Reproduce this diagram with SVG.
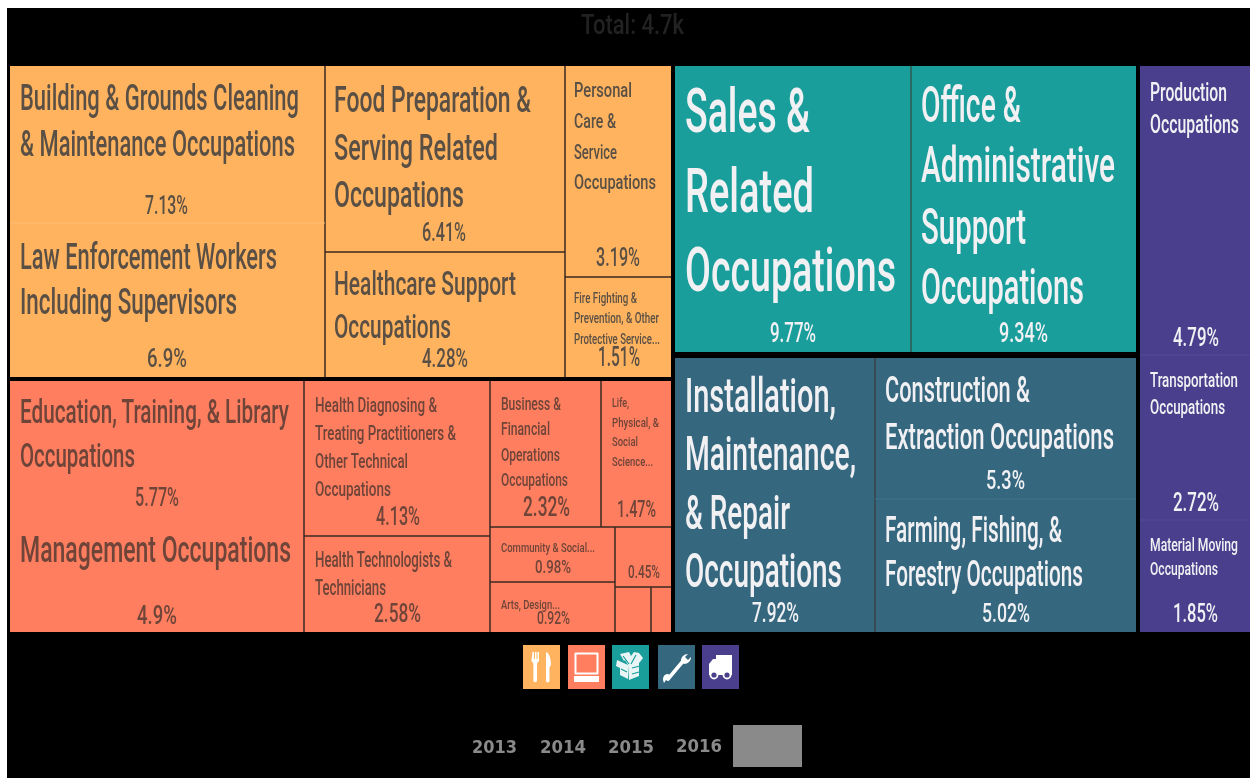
<svg xmlns="http://www.w3.org/2000/svg" width="1250" height="778" viewBox="0 0 1250 778">
<defs><filter id="soft" x="-5%" y="-10%" width="110%" height="120%"><feGaussianBlur stdDeviation="0.4"/></filter></defs>
<style>
text{font-family:"Roboto","Liberation Sans",sans-serif;font-weight:500;filter:url(#soft)}
.d{fill:#5a5044}.r{fill:#6e4438}.w{fill:#f1f1f4}
.o{fill:#ffb35f}.c{fill:#ff7e60}.t{fill:#1a9e9c}.b{fill:#35677f}.p{fill:#4a3f8c}
.ln{stroke:#3a2a20;stroke-width:1.5;fill:none}
.fa{stroke-width:1;fill:none}
.ic{fill:none;stroke:#fff;stroke-linecap:round;stroke-linejoin:round}
.icf{fill:#fff}
.soft{filter:url(#soft)}
.yr{font-family:"DejaVu Sans",sans-serif;font-weight:bold;font-size:18px;fill:#8a8a8a}
</style>
<rect x="0" y="0" width="1250" height="778" fill="#fff"/>
<rect x="7" y="8" width="1243" height="770" fill="#000"/>
<text x="581" y="34" font-size="28" fill="#222" textLength="103" lengthAdjust="spacingAndGlyphs">Total: 4.7k</text>

<g id="tiles-bg">
<rect class="o" x="10" y="66" width="661" height="311"/>
<rect class="c" x="10" y="381" width="661" height="251"/>
<rect class="t" x="675" y="66" width="461" height="286"/>
<rect class="b" x="675" y="358" width="461" height="274"/>
<rect class="p" x="1140" y="66" width="110" height="566"/>
</g>

<g id="connectors">
<path class="ln" d="M325 66V377M565 66V377M325 252H565M565 277H671"/>
<path class="fa" stroke="#ffbd75" d="M10 223H325"/>
<path class="ln" d="M304 381V632M490 381V632M304 536H490M601 381V527M490 527H671M615 527V632M490 582H615M615 587H671M651 587V632"/>
<path class="ln" stroke-opacity=".6" d="M911 66V352"/>
<path class="ln" stroke-opacity=".6" d="M875 358V632"/>
<path class="fa" stroke="#3f7488" d="M875 499H1136"/>
<path class="fa" stroke="#544a96" d="M1140 355H1250M1140 520H1250"/>
</g>

<g id="node-building" class="d">
<text x="20" y="110" font-size="36" textLength="279" lengthAdjust="spacingAndGlyphs">Building &amp; Grounds Cleaning</text>
<text x="20" y="156" font-size="36" textLength="275" lengthAdjust="spacingAndGlyphs">&amp; Maintenance Occupations</text>
<text x="145" y="214" font-size="26" textLength="43" lengthAdjust="spacingAndGlyphs">7.13%</text>
</g>
<g id="node-law" class="d">
<text x="20" y="269" font-size="36" textLength="257" lengthAdjust="spacingAndGlyphs">Law Enforcement Workers</text>
<text x="20" y="314" font-size="36" textLength="217" lengthAdjust="spacingAndGlyphs">Including Supervisors</text>
<text x="147" y="367" font-size="26" textLength="40" lengthAdjust="spacingAndGlyphs">6.9%</text>
</g>
<g id="node-food" class="d">
<text x="334" y="112" font-size="36" textLength="197" lengthAdjust="spacingAndGlyphs">Food Preparation &amp;</text>
<text x="334" y="160" font-size="36" textLength="164" lengthAdjust="spacingAndGlyphs">Serving Related</text>
<text x="334" y="207" font-size="36" textLength="130" lengthAdjust="spacingAndGlyphs">Occupations</text>
<text x="422" y="241" font-size="26" textLength="44" lengthAdjust="spacingAndGlyphs">6.41%</text>
</g>
<g id="node-healthcare" class="d">
<text x="334" y="295" font-size="34" textLength="182" lengthAdjust="spacingAndGlyphs">Healthcare Support</text>
<text x="334" y="338" font-size="34" textLength="117" lengthAdjust="spacingAndGlyphs">Occupations</text>
<text x="422" y="367" font-size="26" textLength="46" lengthAdjust="spacingAndGlyphs">4.28%</text>
</g>
<g id="node-personal" class="d">
<text x="574" y="97" font-size="21" textLength="58" lengthAdjust="spacingAndGlyphs">Personal</text>
<text x="574" y="128" font-size="21" textLength="42" lengthAdjust="spacingAndGlyphs">Care &amp;</text>
<text x="574" y="159" font-size="21" textLength="43" lengthAdjust="spacingAndGlyphs">Service</text>
<text x="574" y="189" font-size="21" textLength="82" lengthAdjust="spacingAndGlyphs">Occupations</text>
<text x="596" y="266" font-size="26" textLength="44" lengthAdjust="spacingAndGlyphs">3.19%</text>
</g>
<g id="node-fire" class="d">
<text x="574" y="303" font-size="14" textLength="63" lengthAdjust="spacingAndGlyphs">Fire Fighting &amp;</text>
<text x="574" y="323" font-size="14" textLength="85" lengthAdjust="spacingAndGlyphs">Prevention, &amp; Other</text>
<text x="574" y="344" font-size="14" textLength="86" lengthAdjust="spacingAndGlyphs">Protective Service...</text>
<text x="598" y="366" font-size="28" textLength="42" lengthAdjust="spacingAndGlyphs">1.51%</text>
</g>

<g id="node-education" class="r">
<text x="20" y="423" font-size="33" textLength="269" lengthAdjust="spacingAndGlyphs">Education, Training, &amp; Library</text>
<text x="20" y="467" font-size="33" textLength="115" lengthAdjust="spacingAndGlyphs">Occupations</text>
<text x="135" y="506" font-size="26" textLength="44" lengthAdjust="spacingAndGlyphs">5.77%</text>
</g>
<g id="node-management" class="r">
<text x="20" y="562" font-size="36" textLength="271" lengthAdjust="spacingAndGlyphs">Management Occupations</text>
<text x="137" y="624" font-size="26" textLength="40" lengthAdjust="spacingAndGlyphs">4.9%</text>
</g>
<g id="node-diagnosing" class="r">
<text x="315" y="412" font-size="20" textLength="122" lengthAdjust="spacingAndGlyphs">Health Diagnosing &amp;</text>
<text x="315" y="440" font-size="20" textLength="141" lengthAdjust="spacingAndGlyphs">Treating Practitioners &amp;</text>
<text x="315" y="468" font-size="20" textLength="93" lengthAdjust="spacingAndGlyphs">Other Technical</text>
<text x="315" y="496" font-size="20" textLength="76" lengthAdjust="spacingAndGlyphs">Occupations</text>
<text x="376" y="525" font-size="26" textLength="44" lengthAdjust="spacingAndGlyphs">4.13%</text>
</g>
<g id="node-technologists" class="r">
<text x="315" y="567" font-size="22" textLength="137" lengthAdjust="spacingAndGlyphs">Health Technologists &amp;</text>
<text x="315" y="595" font-size="22" textLength="71" lengthAdjust="spacingAndGlyphs">Technicians</text>
<text x="374" y="622" font-size="26" textLength="47" lengthAdjust="spacingAndGlyphs">2.58%</text>
</g>
<g id="node-business" class="r">
<text x="501" y="410" font-size="18" textLength="60" lengthAdjust="spacingAndGlyphs">Business &amp;</text>
<text x="501" y="435" font-size="18" textLength="49" lengthAdjust="spacingAndGlyphs">Financial</text>
<text x="501" y="461" font-size="18" textLength="59" lengthAdjust="spacingAndGlyphs">Operations</text>
<text x="501" y="486" font-size="18" textLength="67" lengthAdjust="spacingAndGlyphs">Occupations</text>
<text x="523" y="516" font-size="27" textLength="47" lengthAdjust="spacingAndGlyphs">2.32%</text>
</g>
<g id="node-life" class="r">
<text x="612" y="407" font-size="13" textLength="17" lengthAdjust="spacingAndGlyphs">Life,</text>
<text x="612" y="427" font-size="13" textLength="47" lengthAdjust="spacingAndGlyphs">Physical, &amp;</text>
<text x="612" y="446" font-size="13" textLength="26" lengthAdjust="spacingAndGlyphs">Social</text>
<text x="612" y="466" font-size="13" textLength="41" lengthAdjust="spacingAndGlyphs">Science...</text>
<text x="617" y="517" font-size="24" textLength="39" lengthAdjust="spacingAndGlyphs">1.47%</text>
</g>
<g id="node-community" class="r">
<text x="501" y="552" font-size="13" textLength="94" lengthAdjust="spacingAndGlyphs">Community &amp; Social...</text>
<text x="535" y="573" font-size="18" textLength="36" lengthAdjust="spacingAndGlyphs">0.98%</text>
</g>
<g id="node-arts" class="r">
<text x="501" y="609" font-size="13" textLength="59" lengthAdjust="spacingAndGlyphs">Arts, Design...</text>
<text x="537" y="624" font-size="18" textLength="33" lengthAdjust="spacingAndGlyphs">0.92%</text>
</g>
<g id="node-small" class="r">
<text x="628" y="578" font-size="18" textLength="32" lengthAdjust="spacingAndGlyphs">0.45%</text>
</g>

<g id="node-sales" class="w">
<text x="685" y="132" font-size="62" textLength="125" lengthAdjust="spacingAndGlyphs">Sales &amp;</text>
<text x="685" y="212" font-size="62" textLength="129" lengthAdjust="spacingAndGlyphs">Related</text>
<text x="685" y="291" font-size="62" textLength="211" lengthAdjust="spacingAndGlyphs">Occupations</text>
<text x="770" y="342" font-size="27" textLength="46" lengthAdjust="spacingAndGlyphs">9.77%</text>
</g>
<g id="node-office" class="w">
<text x="921" y="122" font-size="50" textLength="100" lengthAdjust="spacingAndGlyphs">Office &amp;</text>
<text x="921" y="182" font-size="50" textLength="194" lengthAdjust="spacingAndGlyphs">Administrative</text>
<text x="921" y="244" font-size="50" textLength="105" lengthAdjust="spacingAndGlyphs">Support</text>
<text x="921" y="304" font-size="50" textLength="163" lengthAdjust="spacingAndGlyphs">Occupations</text>
<text x="999" y="342" font-size="27" textLength="49" lengthAdjust="spacingAndGlyphs">9.34%</text>
</g>
<g id="node-installation" class="w">
<text x="685" y="412" font-size="48" textLength="151" lengthAdjust="spacingAndGlyphs">Installation,</text>
<text x="685" y="470" font-size="48" textLength="171" lengthAdjust="spacingAndGlyphs">Maintenance,</text>
<text x="685" y="529" font-size="48" textLength="105" lengthAdjust="spacingAndGlyphs">&amp; Repair</text>
<text x="685" y="587" font-size="48" textLength="157" lengthAdjust="spacingAndGlyphs">Occupations</text>
<text x="752" y="622" font-size="27" textLength="47" lengthAdjust="spacingAndGlyphs">7.92%</text>
</g>
<g id="node-construction" class="w">
<text x="885" y="402" font-size="36" textLength="145" lengthAdjust="spacingAndGlyphs">Construction &amp;</text>
<text x="885" y="449" font-size="36" textLength="229" lengthAdjust="spacingAndGlyphs">Extraction Occupations</text>
<text x="986" y="489" font-size="26" textLength="39" lengthAdjust="spacingAndGlyphs">5.3%</text>
</g>
<g id="node-farming" class="w">
<text x="885" y="542" font-size="36" textLength="177" lengthAdjust="spacingAndGlyphs">Farming, Fishing, &amp;</text>
<text x="885" y="586" font-size="36" textLength="198" lengthAdjust="spacingAndGlyphs">Forestry Occupations</text>
<text x="982" y="622" font-size="26" textLength="48" lengthAdjust="spacingAndGlyphs">5.02%</text>
</g>
<g id="node-production" class="w">
<text x="1150" y="101" font-size="25" textLength="77" lengthAdjust="spacingAndGlyphs">Production</text>
<text x="1150" y="133" font-size="25" textLength="89" lengthAdjust="spacingAndGlyphs">Occupations</text>
<text x="1173" y="346" font-size="26" textLength="46" lengthAdjust="spacingAndGlyphs">4.79%</text>
</g>
<g id="node-transportation" class="w">
<text x="1150" y="387" font-size="21" textLength="88" lengthAdjust="spacingAndGlyphs">Transportation</text>
<text x="1150" y="414" font-size="21" textLength="75" lengthAdjust="spacingAndGlyphs">Occupations</text>
<text x="1173" y="511" font-size="26" textLength="46" lengthAdjust="spacingAndGlyphs">2.72%</text>
</g>
<g id="node-material" class="w">
<text x="1150" y="551" font-size="18" textLength="88" lengthAdjust="spacingAndGlyphs">Material Moving</text>
<text x="1150" y="575" font-size="18" textLength="68" lengthAdjust="spacingAndGlyphs">Occupations</text>
<text x="1173" y="622" font-size="26" textLength="45" lengthAdjust="spacingAndGlyphs">1.85%</text>
</g>

<g id="icon-food">
<rect class="o" x="523" y="645" width="37" height="44"/>
<g class="soft">
<path class="icf" d="M533 652h1.500v7h1v-7h1.500v7h1v-7h1.500v9l-2 2.500v17a1.800 1.800 0 0 1-3.600 0v-17l-2-2.500z" transform="translate(-0.500 0)"/>
<path class="icf" d="M546 652c3 1 5 6 5 13l-1.500 2v14a1.800 1.800 0 0 1-3.500 0z"/>
</g>
</g>
<g id="icon-computer">
<rect class="c" x="568" y="645" width="37" height="44"/>
<g class="soft">
<rect class="ic" stroke-width="2" x="575.500" y="653.500" width="22" height="20"/>
<rect class="icf" x="574" y="676" width="25" height="6"/>
</g>
</g>
<g id="icon-box">
<rect class="t" x="612" y="645" width="37" height="44"/>
<g class="soft">
<path class="icf" d="M620 654l9-2 2 4 3-4 5 1 4 5-3 4-1 1v13l-10 4-1-15-3-5-1 1z" fill-opacity=".9"/>
<path class="icf" d="M617 660l11 5v14l-8-4v-7l-4-2z" fill-opacity=".9"/>
<path d="M623 656l6 8M636 655l-5 9M632 668l8-2M632 674l7-2M621 669l6 3" stroke="#1a9e9c" stroke-width="1.200" fill="none"/>
</g>
</g>
<g id="icon-wrench">
<rect class="b" x="658" y="645" width="37" height="44"/>
<g class="soft">
<path class="ic" stroke-width="3.500" d="M668 679l16-19"/>
<path class="icf" d="M688 654c-4 0-7 3-7 7l3 3c4 0 7-3 7-7l-3 3-3-3zM668 674c-3 0-5 2-5 6l1 3 2-3 2 1 2-2 1-3z"/>
</g>
</g>
<g id="icon-truck">
<rect class="p" x="702" y="645" width="37" height="44"/>
<g class="soft">
<path class="icf" d="M716 655h16v20h-23v-11l4-5h3z"/>
<circle cx="714" cy="675" r="3.500" fill="#4a3f8c" stroke="#fff" stroke-width="1.800"/>
<circle cx="727" cy="675" r="3.500" fill="#4a3f8c" stroke="#fff" stroke-width="1.800"/>
</g>
</g>

<g id="year-slider">
<text class="yr" x="472" y="753" textLength="45" lengthAdjust="spacingAndGlyphs">2013</text>
<text class="yr" x="540" y="753" textLength="46" lengthAdjust="spacingAndGlyphs">2014</text>
<text class="yr" x="608" y="753" textLength="46" lengthAdjust="spacingAndGlyphs">2015</text>
<text class="yr" x="676" y="752" textLength="46" lengthAdjust="spacingAndGlyphs">2016</text>
<rect x="733" y="725" width="69" height="42" fill="#8a8a8a"/>
</g>
</svg>
